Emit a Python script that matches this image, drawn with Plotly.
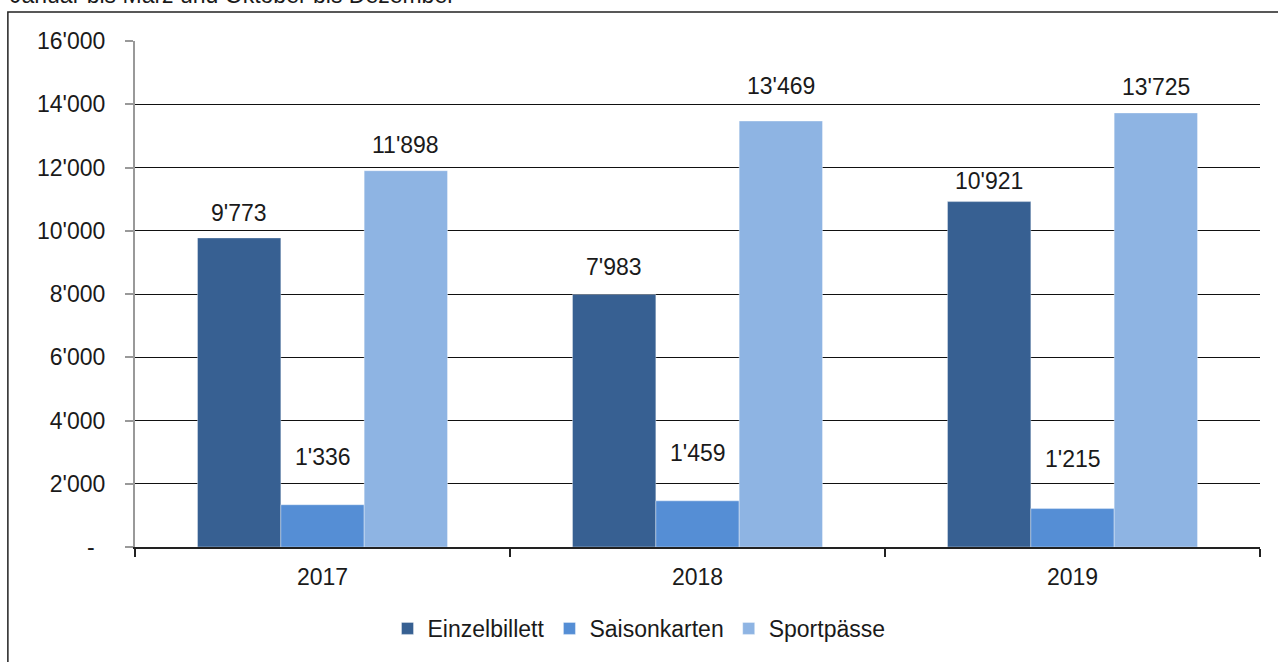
import plotly.graph_objects as go

# Ticket sales per year and ticket type
years = ["2017", "2018", "2019"]
einzelbillett = [9773, 7983, 10921]
saisonkarten = [1336, 1459, 1215]
sportpaesse = [11898, 13469, 13725]
y_tick_values = [0, 2000, 4000, 6000, 8000, 10000, 12000, 14000, 16000]

FONT = "Liberation Sans, Arial, sans-serif"
TEXT = "#1a1a1a"
FS = 23


def swiss(v):
    return f"{v:,}".replace(",", "'")


series = [
    ("Einzelbillett", einzelbillett, "#376092"),
    ("Saisonkarten", saisonkarten, "#558ED5"),
    ("Sportpässe", sportpaesse, "#8EB4E3"),
]

# vertical distance (px) from bar top to the centre of its value label
label_lift = {
    "Einzelbillett": [25, 28, 21],
    "Saisonkarten": [48, 48, 50],
    "Sportpässe": [26, 35, 26],
}

BARGAP = 1 / 3
bar_w = (1 - BARGAP) / len(series)

fig = go.Figure()
annotations = []
for i, (name, values, color) in enumerate(series):
    fig.add_trace(go.Bar(
        name=name, x=years, y=values,
        marker=dict(color=color, line=dict(width=0.6, color="rgba(255,255,255,0.6)")),
        hoverinfo="x+y+name",
    ))
    for j, v in enumerate(values):
        annotations.append(dict(
            x=j + (i - 1) * bar_w, y=v, xref="x", yref="y",
            text=swiss(v), showarrow=False, yanchor="middle",
            yshift=label_lift[name][j],
            font=dict(family=FONT, size=FS, color=TEXT),
        ))

# zero tick shown as a dash, set in from the other tick labels
annotations.append(dict(
    x=-0.0391, y=y_tick_values[0], xref="paper", yref="y",
    text="-", showarrow=False, xanchor="center", yanchor="middle",
    font=dict(family=FONT, size=FS, color=TEXT),
))

# subtitle, partly above the visible page
annotations.append(dict(
    x=-0.113, y=1.062, xref="paper", yref="paper", xanchor="left", yanchor="bottom",
    text="Januar bis März und Oktober bis Dezember", showarrow=False,
    font=dict(family=FONT, size=FS, color=TEXT),
))

fig.update_layout(
    width=1278, height=662,
    margin=dict(l=135, r=18, t=41, b=113),
    paper_bgcolor="white", plot_bgcolor="white",
    barmode="group", bargap=BARGAP, bargroupgap=0,
    font=dict(family=FONT, size=FS, color=TEXT),
    showlegend=True,
    legend=dict(
        orientation="h", x=0.448, xanchor="center", y=-0.161, yanchor="middle",
        font=dict(family=FONT, size=FS, color=TEXT),
        itemwidth=30, tracegroupgap=0,
    ),
    annotations=annotations,
    shapes=[dict(
        type="rect", xref="paper", yref="paper",
        x0=-0.113, x1=1.3, y0=-0.6, y1=1.0571,
        line=dict(color="#222222", width=1.5), fillcolor="rgba(0,0,0,0)",
        layer="below",
    )],
)

fig.update_xaxes(
    type="category", tickson="boundaries",
    ticks="outside", ticklen=8, tickcolor="#222222", tickwidth=1.5,
    showline=True, linecolor="#222222", linewidth=1.5,
    showgrid=False, zeroline=False,
    tickfont=dict(family=FONT, size=FS, color=TEXT),
    ticklabelstandoff=9,
)
fig.update_yaxes(
    range=[0, 16000],
    tickvals=y_tick_values,
    ticktext=["" if v == 0 else swiss(v) for v in y_tick_values],
    ticks="outside", ticklen=8, tickcolor="#999999", tickwidth=1.5,
    showline=True, linecolor="#999999", linewidth=2,
    showgrid=True, gridcolor="#111111", gridwidth=1.2,
    zeroline=False,
    tickfont=dict(family=FONT, size=FS, color=TEXT),
    ticklabelstandoff=15,
)

fig.write_html("out.html")
